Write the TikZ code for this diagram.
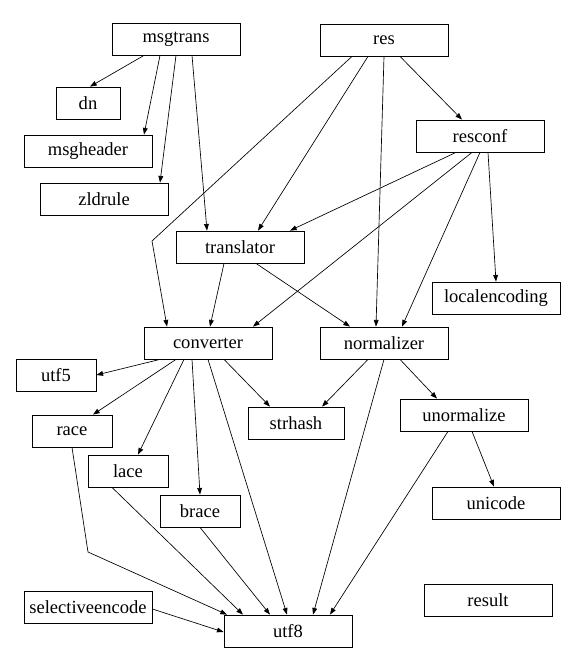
\documentclass[tikz,border=0pt]{standalone}
\usepackage{fontspec}
\setmainfont{Liberation Serif}
\usetikzlibrary{arrows.meta,calc}
\begin{document}
\begin{tikzpicture}[x=0.75pt,y=-0.75pt,
  box/.style={draw,line width=0.6pt,minimum height=24pt,inner sep=0pt,font=\fontsize{13.9}{14}\selectfont},
  wbox/.style={box,minimum width=96pt},
  mbox/.style={box,minimum width=72pt},
  sbox/.style={box,minimum width=60pt},
  tbox/.style={box,minimum width=48pt},
  edge/.style={line width=0.5pt,-{Triangle[length=5pt,width=3.6pt]}}]
\useasboundingbox (0,0) rectangle (577,665);
\node[wbox] (msgtrans) at (176,39) {msgtrans};
\node[tbox] (dn) at (88,103) {dn};
\node[wbox] (msgheader) at (88,151) {msgheader};
\node[wbox] (zldrule) at (104,199) {zldrule};
\node[wbox] (res) at (384,40) {res};
\node[wbox] (resconf) at (480,136) {resconf};
\node[wbox] (translator) at (240,247) {translator};
\node[wbox] (localencoding) at (496,298) {localencoding};
\node[wbox] (converter) at (208,343) {converter};
\node[wbox] (normalizer) at (384,343) {normalizer};
\node[sbox] (utf5) at (56,375) {utf5};
\node[sbox] (race) at (72,431) {race};
\node[mbox] (strhash) at (296,423) {strhash};
\node[wbox] (unormalize) at (464,415) {unormalize};
\node[sbox] (lace) at (128,471) {lace};
\node[wbox] (unicode) at (496,503) {unicode};
\node[sbox] (brace) at (200,511) {brace};
\node[wbox] (selectiveencode) at (88,607) {selectiveencode};
\node[wbox] (result) at (488,600) {result};
\node[wbox] (utf8) at (288,631) {utf8};
\coordinate (bendA) at (152,241);
\coordinate (bendB) at (88,552);
% msgtrans
\draw[edge] ($(msgtrans.south)+(-32,0)$) -- ($(dn.north)+(2,0)$);
\draw[edge] ($(msgtrans.south)+(-16,0)$) -- ($(msgheader.north)+(56,0)$);
\draw[edge] (msgtrans.south) -- ($(zldrule.north)+(56,0)$);
\draw[edge] ($(msgtrans.south)+(16,0)$) -- ($(translator.north)+(-33,0)$);
% res
\draw[edge] ($(res.south)+(-32,0)$) -- (bendA) -- ($(converter.north)+(-41,0)$);
\draw[edge] ($(res.south)+(-16,0)$) -- ($(translator.north)+(18,0)$);
\draw[edge] (res.south) -- ($(normalizer.north)+(-8,0)$);
\draw[edge] ($(res.south)+(16,0)$) -- ($(resconf.north)+(-18,0)$);
% resconf
\draw[edge] ($(resconf.south)+(-24,0)$) -- ($(translator.north)+(50,0)$);
\draw[edge] ($(resconf.south)+(-8,0)$) -- ($(converter.north)+(45,0)$);
\draw[edge] (resconf.south) -- ($(normalizer.north)+(18,0)$);
\draw[edge] ($(resconf.south)+(8,0)$) -- (localencoding.north);
% translator
\draw[edge] ($(translator.south)+(-16,0)$) -- ($(converter.north)+(2,0)$);
\draw[edge] ($(translator.south)+(16,0)$) -- ($(normalizer.north)+(-34,0)$);
% converter
\draw[edge] ($(converter.south)+(-48,0)$) -- (utf5.east);
\draw[edge] ($(converter.south)+(-32,0)$) -- ($(race.north)+(21,0)$);
\draw[edge] ($(converter.south)+(-24,0)$) -- ($(lace.north)+(10,0)$);
\draw[edge] ($(converter.south)+(-16,0)$) -- (brace.north);
\draw[edge] (converter.south) -- ($(utf8.north)+(-1,0)$);
\draw[edge] ($(converter.south)+(16,0)$) -- ($(strhash.north)+(-26,0)$);
% normalizer
\draw[edge] ($(normalizer.south)+(-16,0)$) -- ($(strhash.north)+(26,0)$);
\draw[edge] (normalizer.south) -- ($(utf8.north)+(25,0)$);
\draw[edge] ($(normalizer.south)+(16,0)$) -- ($(unormalize.north)+(-27,0)$);
% unormalize
\draw[edge] ($(unormalize.south)+(8,0)$) -- ($(unicode.north)+(-2,0)$);
\draw[edge] ($(unormalize.south)+(-16,0)$) -- ($(utf8.north)+(42,0)$);
% into utf8
\draw[edge] (race.south) -- (bendB) -- ($(utf8.north)+(-61,0)$);
\draw[edge] ($(lace.south)+(-16,0)$) -- ($(utf8.north)+(-45,0)$);
\draw[edge] (brace.south) -- ($(utf8.north)+(-18,0)$);
\draw[edge] ($(selectiveencode.east)+(0,2)$) -- ($(utf8.west)+(0,1)$);
\end{tikzpicture}
\end{document}
